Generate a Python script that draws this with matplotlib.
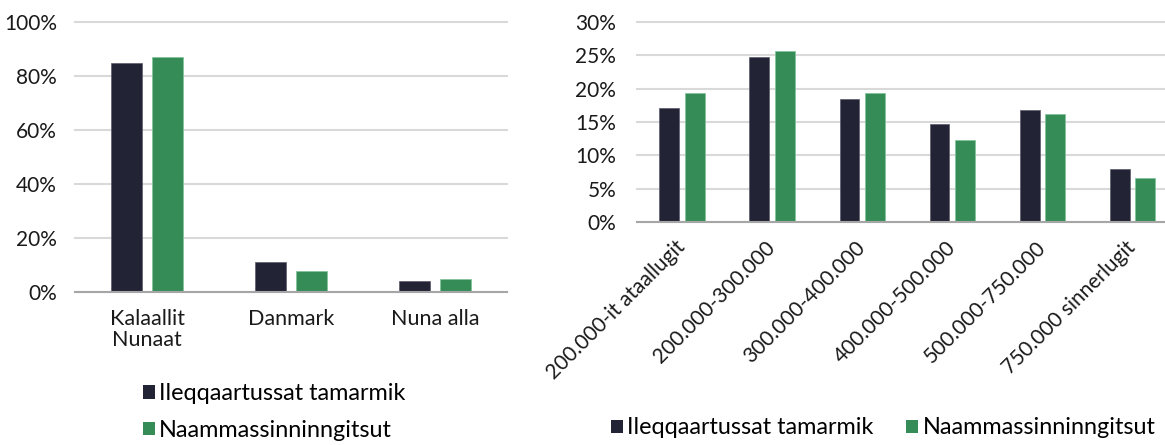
import matplotlib.pyplot as plt
from matplotlib.patches import Patch

plt.rcParams['font.family'] = ['Lato', 'DejaVu Sans']

# data
series = ["Ileqqaartussat tamarmik", "Naammassinninngitsut"]
colors = ["#232336", "#358c57"]

countries = ["Kalaallit\nNunaat", "Danmark", "Nuna alla"]
country_all = [84.7, 11.0, 4.1]
country_not = [87.2, 7.8, 4.7]

income = ["200.000-it ataallugit", "200.000-300.000", "300.000-400.000",
          "400.000-500.000", "500.000-750.000", "750.000 sinnerlugit"]
income_all = [17.05, 24.75, 18.45, 14.7, 16.8, 8.0]
income_not = [19.4, 25.7, 19.3, 12.35, 16.2, 6.65]

W, H = 1165, 445
fig = plt.figure(figsize=(W / 100, H / 100), dpi=100)

grid_c = "#d9d9d9"
axis_c = "#a6a6a6"
fs = 15
lfs = 16.8
bw = 0.22
off = 0.142


def style(ax):
    for s in ["top", "right", "left"]:
        ax.spines[s].set_visible(False)
    ax.spines["bottom"].set_color(axis_c)
    ax.spines["bottom"].set_linewidth(1.5)
    ax.yaxis.grid(True, color=grid_c, linewidth=1.5)
    ax.set_axisbelow(True)
    ax.tick_params(length=0, labelsize=fs, colors="#1a1a1a")


# left chart
ax1 = fig.add_axes([75 / W, (H - 292) / H, 432 / W, 270 / H])
x1 = range(len(countries))
ax1.bar([i - off for i in x1], country_all, bw, color=colors[0],
        edgecolor="#5a5a6a", linewidth=0.5)
ax1.bar([i + off for i in x1], country_not, bw, color=colors[1],
        edgecolor="#7fc49a", linewidth=0.5)
style(ax1)
ax1.set_xlim(-0.5, 2.5)
ax1.set_ylim(0, 100)
ax1.set_yticks(range(0, 101, 20))
ax1.set_yticklabels([f"{v}%" for v in range(0, 101, 20)])
ax1.set_xticks(list(x1))
ax1.set_xticklabels(countries, linespacing=1.1, fontsize=15.5)
ax1.tick_params(axis="y", pad=13)
ax1.tick_params(axis="x", pad=12)
for gl in ax1.get_ygridlines():
    gl.set_clip_on(False)

handles = [Patch(facecolor=c) for c in colors]
fig.legend(handles, series, loc="center left", bbox_to_anchor=(122 / W, 1 - 412 / H),
           frameon=False, fontsize=lfs, handlelength=0.5, handleheight=0.5,
           handletextpad=0.2, labelspacing=0.65)

# right chart (cut off at the right edge, like the original)
ax2 = fig.add_axes([637 / W, (H - 222) / H, (W - 637) / W, 200 / H])
x2 = range(len(income))
ax2.bar([i - off for i in x2], income_all, bw, color=colors[0],
        edgecolor="#5a5a6a", linewidth=0.5)
ax2.bar([i + off for i in x2], income_not, bw, color=colors[1],
        edgecolor="#7fc49a", linewidth=0.5)
style(ax2)
ax2.set_xlim(-0.5, 5.36)
ax2.set_ylim(0, 30)
ax2.set_yticks(range(0, 31, 5))
ax2.set_yticklabels([f"{v}%" for v in range(0, 31, 5)])
ax2.set_xticks(list(x2))
ax2.set_xticklabels(income, rotation=45, ha="right", va="center",
                    rotation_mode="anchor")
ax2.tick_params(axis="y", pad=15)
ax2.tick_params(axis="x", pad=16)
for gl in ax2.get_ygridlines():
    gl.set_clip_on(False)

fig.legend(handles, series, loc="center left", bbox_to_anchor=(590 / W, 1 - 428 / H),
           frameon=False, fontsize=lfs, ncol=2, handlelength=0.5, handleheight=0.5,
           handletextpad=0.2, columnspacing=1.4)

fig.savefig("out.png", dpi=100)
